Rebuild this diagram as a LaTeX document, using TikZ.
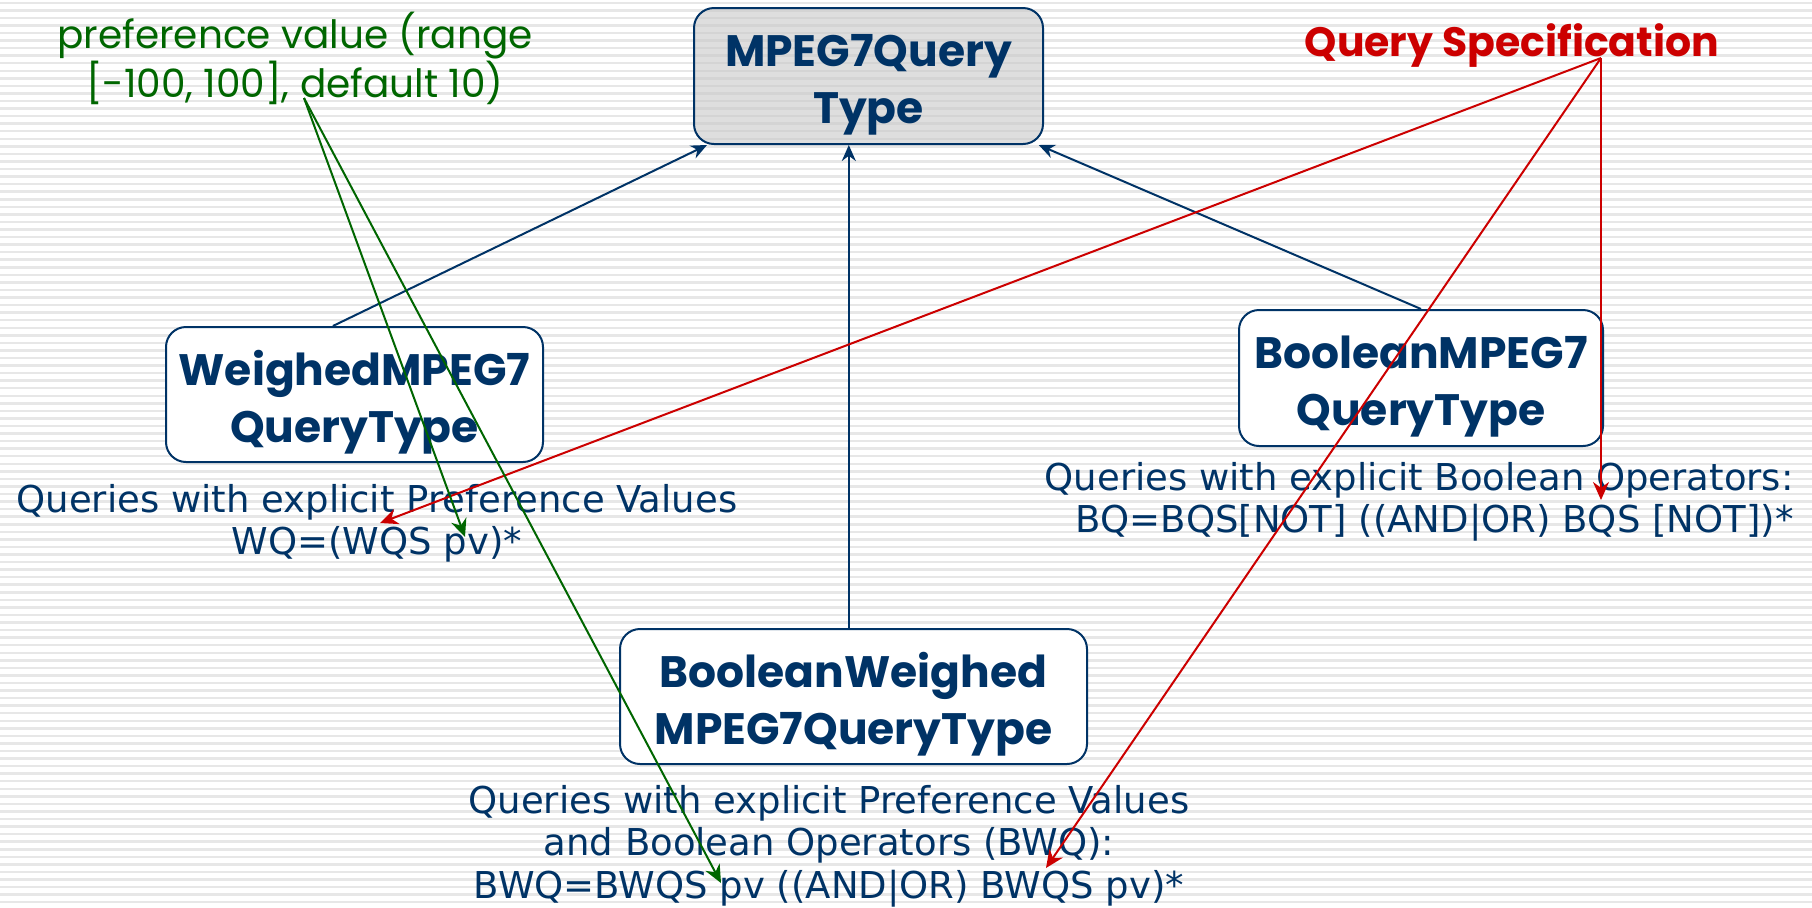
\documentclass[tikz,border=0pt]{standalone}
\usepackage{fontspec}
\setmainfont{DejaVu Sans}
\newfontfamily\comic{Poppins}
\usetikzlibrary{arrows.meta,calc}
\definecolor{navy}{HTML}{003366}
\definecolor{dgreen}{HTML}{006600}
\definecolor{dred}{HTML}{CC0000}
\definecolor{stripe}{HTML}{E7E7E7}
\definecolor{boxgray}{RGB}{200,200,200}
\newcommand{\boxstrut}{\rule{0pt}{25pt}}
\begin{document}
\begin{tikzpicture}[x=0.5pt,y=-0.5pt,
  typebox/.style={draw=navy, line width=1pt, rounded corners=10pt, fill=white,
    text=navy, font=\comic\bfseries\fontsize{22}{28.5}\selectfont, align=center, inner sep=0pt},
  desc/.style={text=navy, font=\fontsize{18.5}{21.2}\selectfont, inner sep=0pt},
  link/.style={draw=navy, line width=1pt, -{Stealth[length=8pt,width=7pt]}},
  redarrow/.style={draw=dred, line width=1pt, -{Stealth[length=9pt,width=8pt]}},
  greenarrow/.style={draw=dgreen, line width=1pt, -{Stealth[length=9pt,width=8pt]}},
]
\useasboundingbox (0,0) rectangle (1812,907);
\fill[white] (0,0) rectangle (1812,907);
\foreach \i in {0,...,119} {
  \fill[stripe] (0,{\i*7.558+1.5}) rectangle (1812,{\i*7.558+4});
}

% boxes
\node[typebox, fill=boxgray, fill opacity=0.6, text opacity=1,
  minimum width=174.5pt, minimum height=68pt] (top) at (868.5,76) {\boxstrut MPEG7Query\\Type};
\node[typebox, minimum width=188.5pt, minimum height=67.5pt] (wq) at (354.5,394.5) {\boxstrut WeighedMPEG7\\QueryType};
\node[typebox, minimum width=182pt, minimum height=68pt] (bq) at (1421,378) {\boxstrut BooleanMPEG7\\QueryType};
\node[typebox, minimum width=233.5pt, minimum height=67.5pt] (bwq) at (853.5,696.5) {\boxstrut BooleanWeighed\\MPEG7QueryType};

% descriptions
\node[desc, align=center] (wqd) at (377,523) {Queries with explicit Preference Values\\WQ=(WQS pv)*};
\node[desc, align=right, anchor=east] (bqd) at (1794,502) {Queries with explicit Boolean Operators:\\BQ=BQS[NOT] ((AND|OR) BQS [NOT])*};
\node[desc, align=center] (bwqd) at (829,846) {Queries with explicit Preference Values\\and Boolean Operators (BWQ):\\BWQ=BWQS pv ((AND|OR) BWQS pv)*};

% labels
\node[text=dgreen, font=\comic\fontsize{19.5}{24.5}\selectfont, align=center, inner sep=0pt] (pv) at (295,58)
  {preference value (range\\{[-100, 100]}, default 10)};
\node[text=dred, font=\comic\bfseries\fontsize{20.5}{24}\selectfont, inner sep=0pt] (qs) at (1512,46) {Query Specification};

% inheritance links
\draw[link] ($(wq.north west)!0.443!(wq.north east)$) -- ($(top.south west)!0.04!(top.south east)$);
\coordinate (m1) at ($(bwq.north west)!0.49!(bwq.north east)$);
\draw[link] (m1) -- (m1 |- top.south);
\draw[link] (bq.north) -- ($(top.south west)!0.985!(top.south east)$);

% annotation arrows
\coordinate (qsp) at (1601,58);
\coordinate (pvp) at (304,98);
\coordinate (rt1) at (380,523);
\coordinate (rt2) at (1601,500);
\coordinate (rt3) at (1046,868);
\coordinate (gt1) at (465,537);
\coordinate (gt2) at (721,883);
\draw[redarrow] (qsp) -- (rt1);
\draw[redarrow] (qsp) -- (rt2);
\draw[redarrow] (qsp) -- (rt3);
\draw[greenarrow] (pvp) -- (gt1);
\draw[greenarrow] (pvp) -- (gt2);
\end{tikzpicture}
\end{document}
